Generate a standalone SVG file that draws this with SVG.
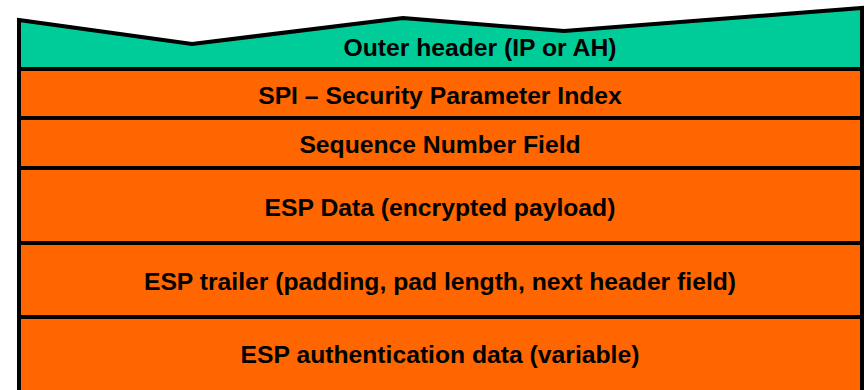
<svg xmlns="http://www.w3.org/2000/svg" width="865" height="390" viewBox="0 0 865 390">
<style>
.t{font-family:"Liberation Sans",Arial,sans-serif;font-weight:bold;font-size:24.7px;fill:#000;text-anchor:middle}
.o{fill:#FF6600;stroke:#000;stroke-width:4}
.g{fill:#00CC99;stroke:#000;stroke-width:4}
</style>
<rect width="865" height="390" fill="#fff"/>
<g id="outer-header">
<polygon class="g" points="19,20 192,44 403,18 564,31 862,8 862,69 19,69"/>
<text class="t" x="480" y="56">Outer header (IP or AH)</text>
</g>
<g id="spi">
<rect class="o" x="19" y="69" width="843" height="49"/>
<text class="t" x="440" y="104">SPI – Security Parameter Index</text>
</g>
<g id="sequence">
<rect class="o" x="19" y="118" width="843" height="50"/>
<text class="t" x="440" y="153">Sequence Number Field</text>
</g>
<g id="esp-data">
<rect class="o" x="19" y="168" width="843" height="75"/>
<text class="t" x="440" y="216">ESP Data (encrypted payload)</text>
</g>
<g id="esp-trailer">
<rect class="o" x="19" y="243" width="843" height="74"/>
<text class="t" x="440" y="290">ESP trailer (padding, pad length, next header field)</text>
</g>
<g id="esp-auth">
<rect class="o" x="19" y="317" width="843" height="80"/>
<text class="t" x="440" y="363">ESP authentication data (variable)</text>
</g>
<g id="connectors"></g>
</svg>
